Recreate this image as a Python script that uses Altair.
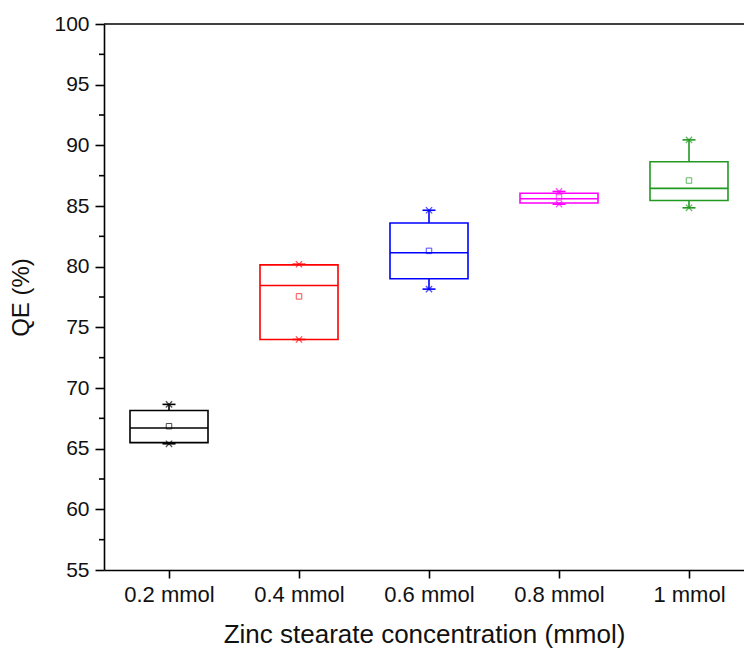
import altair as alt
import pandas as pd

categories = ["0.2 mmol", "0.4 mmol", "0.6 mmol", "0.8 mmol", "1 mmol"]
colors = ["#000000", "#ff0000", "#0000ff", "#ff00ff", "#229922"]
whisker_low = [65.4, 74.0, 78.15, 85.15, 84.85]
q1 = [65.5, 74.0, 79.0, 85.25, 85.45]
median = [66.7, 78.45, 81.15, 85.6, 86.45]
mean = [66.85, 77.55, 81.3, 85.7, 87.1]
q3 = [68.15, 80.15, 83.6, 86.05, 88.65]
whisker_high = [68.65, 80.2, 84.65, 86.2, 90.45]

y_major = list(range(55, 101, 5))
y_minor = [57.5, 62.5, 67.5, 72.5, 77.5, 82.5, 87.5, 92.5, 97.5]

FONT = "Liberation Sans"
HALF_BOX = 0.3
HALF_CAP = 0.05
X_MIN, X_MAX = 0.5, 5.5 - 10 / 130

pos = list(range(1, len(categories) + 1))
df = pd.DataFrame({
    "cat": categories,
    "pos": pos,
    "left": [p - HALF_BOX for p in pos],
    "right": [p + HALF_BOX for p in pos],
    "capl": [p - HALF_CAP for p in pos],
    "capr": [p + HALF_CAP for p in pos],
    "wlo": whisker_low,
    "q1": q1,
    "median": median,
    "mean": mean,
    "q3": q3,
    "whi": whisker_high,
})

xscale = alt.Scale(domain=[X_MIN, X_MAX], nice=False, zero=False)
yscale = alt.Scale(domain=[55, 100], nice=False, zero=False)
col = alt.Color("cat:N", scale=alt.Scale(domain=categories, range=colors), legend=None)

label_expr = "[" + ",".join("'%s'" % c for c in categories) + "][datum.value - 1]"

xaxis = alt.Axis(values=pos, labelExpr=label_expr, title="Zinc stearate concentration (mmol)",
                 tickSize=8, labelPadding=6, labelFontSize=22, titleFontSize=26,
                 titlePadding=16, grid=False, labelFont=FONT, titleFont=FONT,
                 titleFontWeight="normal")
yaxis = alt.Axis(values=y_major, title="QE (%)", tickSize=9, labelPadding=6,
                 labelFontSize=21, titleFontSize=24, titlePadding=20, grid=False,
                 labelFont=FONT, titleFont=FONT, titleFontWeight="normal")

base = alt.Chart(df)

box = base.mark_rect(fillOpacity=0, strokeWidth=1.6).encode(
    x=alt.X("left:Q", scale=xscale, axis=xaxis),
    x2="right:Q",
    y=alt.Y("q1:Q", scale=yscale, axis=yaxis),
    y2="q3:Q",
    stroke=col,
)
med = base.mark_rule(strokeWidth=1.6).encode(
    x=alt.X("left:Q", scale=xscale), x2="right:Q",
    y=alt.Y("median:Q", scale=yscale), color=col)
wup = base.mark_rule(strokeWidth=1.6).encode(
    x=alt.X("pos:Q", scale=xscale),
    y=alt.Y("q3:Q", scale=yscale), y2="whi:Q", color=col)
wdn = base.mark_rule(strokeWidth=1.6).encode(
    x=alt.X("pos:Q", scale=xscale),
    y=alt.Y("wlo:Q", scale=yscale), y2="q1:Q", color=col)
capu = base.mark_rule(strokeWidth=1.6).encode(
    x=alt.X("capl:Q", scale=xscale), x2="capr:Q",
    y=alt.Y("whi:Q", scale=yscale), color=col)
capd = base.mark_rule(strokeWidth=1.6).encode(
    x=alt.X("capl:Q", scale=xscale), x2="capr:Q",
    y=alt.Y("wlo:Q", scale=yscale), color=col)
xpath = "M-1,-1L1,1M-1,1L1,-1"
crossu = base.mark_point(shape=xpath, filled=False, size=40, strokeWidth=1.2).encode(
    x=alt.X("pos:Q", scale=xscale), y=alt.Y("whi:Q", scale=yscale), color=col)
crossd = base.mark_point(shape=xpath, filled=False, size=40, strokeWidth=1.2).encode(
    x=alt.X("pos:Q", scale=xscale), y=alt.Y("wlo:Q", scale=yscale), color=col)
meanp = base.mark_point(shape="square", filled=False, size=30, strokeWidth=1).encode(
    x=alt.X("pos:Q", scale=xscale), y=alt.Y("mean:Q", scale=yscale), color=col)

frame = alt.Chart(pd.DataFrame({"a": [X_MIN], "b": [X_MAX], "y": [100]})).mark_rule(
    color="black", strokeWidth=1.6).encode(
    x=alt.X("a:Q", scale=xscale), x2="b:Q", y=alt.Y("y:Q", scale=yscale))

minor = alt.Chart(pd.DataFrame({"v": y_minor})).mark_rule(
    color="black", strokeWidth=1.6).encode(
    x=alt.value(-5), x2=alt.value(0), y=alt.Y("v:Q", scale=yscale))

chart = alt.layer(box, med, wup, wdn, capu, capd, crossu, crossd, meanp, frame, minor).properties(
    width=640, height=546,
    autosize=alt.AutoSizeParams(type="none"),
    padding={"left": 104, "top": 24, "right": 0, "bottom": 87},
).configure_view(stroke=None).configure_axis(
    domainColor="black", domainWidth=1.6, tickColor="black", tickWidth=1.6,
    labelColor="#111111", titleColor="#111111",
)

chart.save("out.html", embed_options={"renderer": "svg", "actions": False})
